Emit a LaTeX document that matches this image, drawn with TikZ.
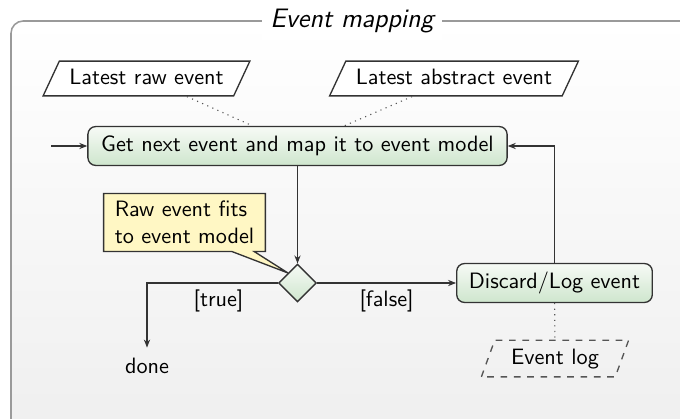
\documentclass[tikz,border=0pt]{standalone}
\usetikzlibrary{shapes.geometric,shapes.callouts,arrows.meta}
\definecolor{framegray}{HTML}{9A9A9A}
\definecolor{bgbottom}{HTML}{EFEFEF}
\definecolor{greentop}{HTML}{F6FAF5}
\definecolor{greenbot}{HTML}{CFE6CE}
\definecolor{notefill}{HTML}{FFF7C4}
\definecolor{edgecol}{HTML}{333333}
\definecolor{auxcol}{HTML}{555555}
\begin{document}
\begin{tikzpicture}[x=0.45pt,y=-0.45pt,font=\sffamily,
  action/.style={draw=edgecol,line width=0.6pt,rounded corners=3.5pt,
    top color=greentop,bottom color=greenbot,minimum height=17.5pt,
    inner xsep=6pt,text height=7pt,text depth=2pt},
  datastore/.style={trapezium,trapezium left angle=65,trapezium right angle=115,
    draw=edgecol,line width=0.6pt,fill=white,inner xsep=4.5pt,
    minimum height=15pt,text height=7pt,text depth=2pt},
  logstore/.style={trapezium,trapezium left angle=70,trapezium right angle=110,
    draw=auxcol,dashed,line width=0.6pt,inner xsep=6pt,
    minimum height=16.5pt,text height=7pt,text depth=2pt},
  decision/.style={diamond,draw=edgecol,line width=0.6pt,
    top color=greentop,bottom color=greenbot,minimum width=17pt,
    minimum height=17pt,inner sep=0pt},
  notebox/.style={rectangle callout,draw=edgecol,line width=0.6pt,fill=notefill,
    align=left,inner xsep=5pt,inner ysep=3.5pt,callout pointer width=10pt},
  flow/.style={draw=edgecol,line width=0.5pt,-{Stealth[length=3.6pt,width=2.8pt]}},
  assoc/.style={draw=auxcol,dotted,line width=0.5pt},
  guard/.style={font=\sffamily,inner sep=3pt}]

\useasboundingbox (0,0) rectangle (680,419);

% activity frame with light vertical gradient
\begin{scope}
  \clip (0,0) rectangle (680,419);
  \shade[top color=white,bottom color=bgbottom,rounded corners=5.5pt]
    (11,21) rectangle (700,432);
  \draw[framegray,line width=0.7pt,rounded corners=5.5pt]
    (11,21) rectangle (700,432);
\end{scope}
\node[fill=white,inner xsep=4pt,font=\large\itshape\sffamily] (title) at (352,21) {Event mapping};

% object nodes
\node[datastore] (raw) at (146.5,78.5) {Latest raw event};
\node[datastore] (abstract) at (454,78.5) {Latest abstract event};

% actions and decision
\node[action] (main) at (297.5,146) {Get next event and map it to event model};
\node[decision] (dec) at (297.5,283) {};
\node[action,inner xsep=5.5pt] (discard) at (554.5,283) {Discard/Log event};
\node[logstore] (log) at (555,358.5) {Event log};
\node[inner xsep=0pt,inner ysep=4.5pt,text height=7pt,text depth=2pt] (done) at (147,368) {done};
\coordinate (start) at (51,146);

% note attached to the decision
\node[notebox,callout absolute pointer={(288,273)}] (note) at (184.5,222.5)
  {Raw event fits\\to event model};

% associations
\draw[assoc] (raw) -- (main);
\draw[assoc] (abstract) -- (main);
\draw[assoc] (discard) -- (log);

% control flow
\draw[flow] (start) -- (main.west);
\draw[flow] (main.south) -- (dec.north);
\draw[flow] (dec.west) -| node[guard,pos=0.227,below] {[true]} (done.north);
\draw[flow] (dec.east) -- node[guard,midway,below] {[false]} (discard.west);
\draw[flow] (discard.north) |- (main.east);
\end{tikzpicture}
\end{document}
